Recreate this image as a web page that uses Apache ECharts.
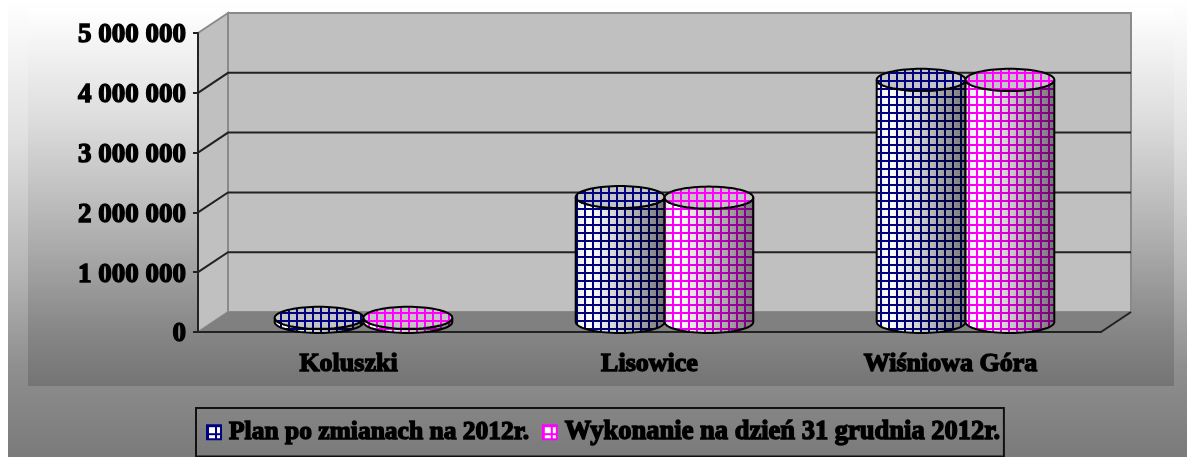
<!DOCTYPE html>
<html><head><meta charset="utf-8">
<style>html,body{margin:0;padding:0;background:#fff}#c{width:1187px;height:457px;filter:blur(0.5px)}</style>
<script src="https://cdn.jsdelivr.net/npm/echarts@6/dist/echarts.min.js"></script>
</head><body><div id="c"></div>
<script>
const categories = ['Koluszki', 'Lisowice', 'Wiśniowa Góra'];
const seriesNames = ['Plan po zmianach na 2012r.', 'Wykonanie na dzień 31 grudnia 2012r.'];
const planValues = [70000, 2090000, 4050000];
const doneValues = [70000, 2080000, 4050000];
const yTickValues = [0, 1000000, 2000000, 3000000, 4000000, 5000000];
const yTickLabels = ['0', '1 000 000', '2 000 000', '3 000 000', '4 000 000', '5 000 000'];

const DX = 30, DY = 20, RY = 11, RX_RATIO = 0.1475;
const FONT = '"Liberation Serif", serif';

function grid(color, bg) {
  const c = document.createElement('canvas');
  c.width = c.height = 8;
  const g = c.getContext('2d');
  if (bg) { g.fillStyle = bg; g.fillRect(0, 0, 8, 8); }
  g.fillStyle = color;
  g.fillRect(0, 0, 8, 2);
  g.fillRect(0, 0, 2, 8);
  return { image: c, repeat: 'repeat' };
}
const colors = ['#000080', '#ff00ff'];
const patterns = colors.map(c => grid(c));
const topPatterns = colors.map(c => grid(c, '#c4c4c4'));
const legendPatterns = colors.map(c => grid(c, '#ffffff'));

function ellipsePts(cx, cy, rx, ry, a0, a1, n) {
  const p = [];
  for (let i = 0; i <= n; i++) {
    const a = a0 + (a1 - a0) * i / n;
    p.push([cx + rx * Math.cos(a), cy + ry * Math.sin(a)]);
  }
  return p;
}

function cylinder(si) {
  return function (params, api) {
    const cat = api.value(0), v = api.value(1);
    const band = api.size([1, 0])[0];
    const rx = band * RX_RATIO;
    const top = api.coord([cat, v]), base = api.coord([cat, 0]);
    const cx = top[0] + DX / 2 + (si === 0 ? -rx : rx);
    const yT = top[1] - DY / 2, yB = base[1] - DY / 2;
    const body = ellipsePts(cx, yB, rx, RY, 0, Math.PI, 36)
      .concat(ellipsePts(cx, yT, rx, RY, Math.PI, 0, 36));
    const ell = ellipsePts(cx, yT, rx, RY, 0, Math.PI * 2, 72);
    const shade = {
      type: 'linear', x: 0, y: 0, x2: 1, y2: 0,
      colorStops: [
        { offset: 0, color: 'rgba(0,0,0,0.10)' },
        { offset: 0.16, color: 'rgba(0,0,0,0)' },
        { offset: 0.5, color: 'rgba(0,0,0,0.2)' },
        { offset: 1, color: 'rgba(0,0,0,0.55)' }
      ]
    };
    return {
      type: 'group',
      children: [
        { type: 'polygon', shape: { points: body }, style: { fill: '#ffffff' } },
        { type: 'polygon', shape: { points: body }, style: { fill: patterns[si] } },
        { type: 'polygon', shape: { points: body }, style: { fill: shade, stroke: '#000', lineWidth: 2 } },
        { type: 'polygon', shape: { points: ell }, style: { fill: topPatterns[si], stroke: '#000', lineWidth: 2 } }
      ]
    };
  };
}

function walls(params, api) {
  const o = api.coord([0, 0]);
  const band = api.size([1, 0])[0];
  const left = o[0] - band / 2, right = left + band * categories.length;
  const yAt = v => api.coord([0, v])[1];
  const y0 = yAt(0), yM = yAt(yTickValues[yTickValues.length - 1]);
  const kids = [
    { type: 'polygon', shape: { points: [[left, yM], [left + DX, yM - DY], [left + DX, y0 - DY], [left, y0]] },
      style: { fill: '#c0c0c0', stroke: '#8a8a8a', lineWidth: 2 } },
    { type: 'polygon', shape: { points: [[left + DX, yM - DY], [right + DX, yM - DY], [right + DX, y0 - DY], [left + DX, y0 - DY]] },
      style: { fill: '#c0c0c0', stroke: '#8a8a8a', lineWidth: 2 } },
    { type: 'polygon', shape: { points: [[left, y0], [left + DX, y0 - DY], [right + DX, y0 - DY], [right, y0]] },
      style: { fill: '#808080' } },
    { type: 'line', shape: { x1: right, y1: y0, x2: right + DX, y2: y0 - DY }, style: { stroke: '#222', lineWidth: 2 } }
  ];
  yTickValues.slice(1, -1).forEach(v => {
    const y = yAt(v);
    kids.push({ type: 'polyline', shape: { points: [[left, y], [left + DX, y - DY], [right + DX, y - DY]] },
      style: { stroke: '#222', lineWidth: 2, fill: null } });
  });
  return { type: 'group', children: kids };
}

const chart = echarts.init(document.getElementById('c'), null, { renderer: 'canvas' });
const labelFx = { fontFamily: FONT, fontWeight: 'bold', color: '#000', textBorderColor: '#000', textBorderWidth: 1.4 };
const legendFonts = [25.5, 26.5];
chart.setOption({
  animation: false,
  backgroundColor: 'transparent',
  graphic: [
    { type: 'rect', z: -20, silent: true, shape: { x: 8, y: 0, width: 1179, height: 457 },
      style: { fill: { type: 'linear', x: 0, y: 0, x2: 0, y2: 1, colorStops: [
        { offset: 0, color: '#ffffff' }, { offset: 0.3, color: '#e0e0e0' }, { offset: 0.6, color: '#b4b4b4' }, { offset: 0.8, color: '#8f8f8f' }, { offset: 1, color: '#7a7a7a' }] } } },
    { type: 'rect', z: -19, silent: true, shape: { x: 28, y: 8, width: 1146, height: 378 },
      style: { fill: { type: 'linear', x: 0, y: 0, x2: 0, y2: 1, colorStops: [
        { offset: 0, color: '#ffffff' }, { offset: 0.3, color: '#dcdcdc' }, { offset: 0.6, color: '#b0b0b0' }, { offset: 0.85, color: '#878787' }, { offset: 1, color: '#747474' }] } } }
  ],
  legend: {
    left: 196, top: 408, orient: 'horizontal',
    data: seriesNames.map((n, i) => ({ name: n, icon: 'rect',
      itemStyle: { color: legendPatterns[i], borderColor: colors[i], borderWidth: 2 },
      textStyle: Object.assign({ fontSize: legendFonts[i], padding: [0, 0, 0, 3] }, labelFx) })),
    itemWidth: 14, itemHeight: 14, itemGap: 12,
    padding: [10, 3, 10, 10],
    borderColor: '#111', borderWidth: 2,
    selectedMode: false,
    textStyle: Object.assign({ fontSize: 26, padding: [0, 0, 0, 3] }, labelFx)
  },
  grid: { left: 198, right: 86, top: 33, bottom: 125, containLabel: false },
  xAxis: {
    type: 'category', data: categories,
    axisLine: { lineStyle: { color: '#222', width: 2 } },
    axisTick: { length: 5, lineStyle: { color: '#222', width: 2 } },
    axisLabel: Object.assign({ fontSize: 26, margin: 19, interval: 0 }, labelFx)
  },
  yAxis: {
    type: 'value', min: 0, max: 5000000, interval: 1000000,
    axisLine: { show: true, lineStyle: { color: '#222', width: 2 } },
    axisTick: { show: true, length: 5, lineStyle: { color: '#222', width: 2 } },
    splitLine: { show: false },
    axisLabel: Object.assign({ fontSize: 27, margin: 12, verticalAlign: 'middle',
      rich: { t: Object.assign({ fontSize: 27, padding: [5, 0, 0, 0] }, labelFx) },
      formatter: v => '{t|' + yTickLabels[yTickValues.indexOf(v)] + '}' }, labelFx)
  },
  series: [
    { type: 'custom', name: '_walls', silent: true, z: -5, renderItem: walls, data: [[0, 0]], encode: { x: 0, y: 1 } },
    { type: 'custom', name: seriesNames[0], z: 3, renderItem: cylinder(0), encode: { x: 0, y: 1 },
      itemStyle: { color: legendPatterns[0] }, data: planValues.map((v, i) => [i, v]) },
    { type: 'custom', name: seriesNames[1], z: 4, renderItem: cylinder(1), encode: { x: 0, y: 1 },
      itemStyle: { color: legendPatterns[1] }, data: doneValues.map((v, i) => [i, v]) }
  ]
});
</script></body></html>
